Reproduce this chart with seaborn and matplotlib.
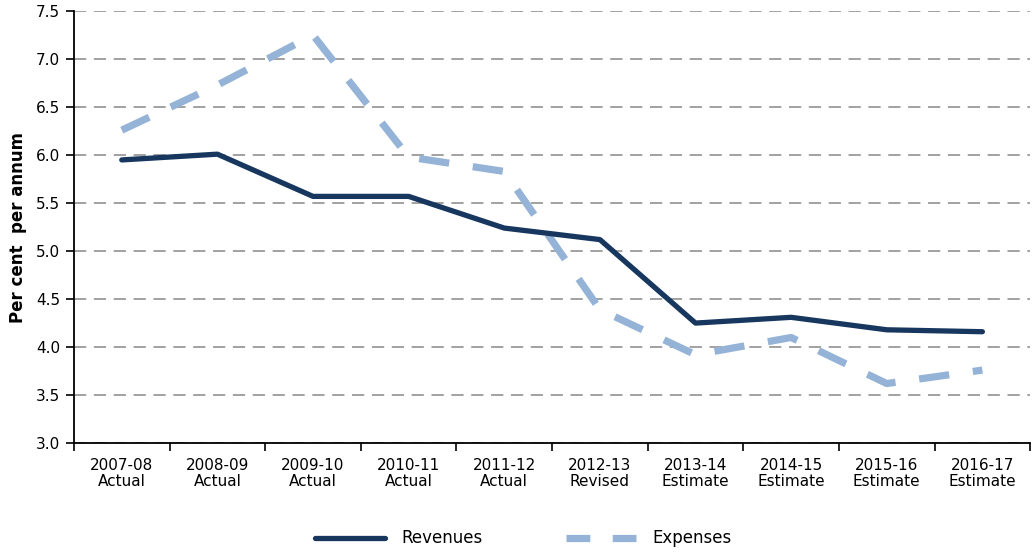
import numpy as np
import pandas as pd
import matplotlib.pyplot as plt
import seaborn as sns

sns.set_style('white')
plt.rcParams['font.family'] = ['DejaVu Sans']
plt.rcParams['text.color'] = 'black'
plt.rcParams['xtick.color'] = 'black'
plt.rcParams['ytick.color'] = 'black'
plt.rcParams['axes.labelcolor'] = 'black'

years = ['2007-08', '2008-09', '2009-10', '2010-11', '2011-12',
         '2012-13', '2013-14', '2014-15', '2015-16', '2016-17']
stages = ['Actual', 'Actual', 'Actual', 'Actual', 'Actual',
          'Revised', 'Estimate', 'Estimate', 'Estimate', 'Estimate']
revenues = [5.95, 6.01, 5.57, 5.57, 5.24, 5.12, 4.25, 4.31, 4.18, 4.16]
expenses = [6.26, 6.73, 7.25, 5.98, 5.83, 4.39, 3.92, 4.10, 3.62, 3.76]

labels = [f'{y}\n{s}' for y, s in zip(years, stages)]
df = pd.DataFrame({'period': labels, 'Revenues': revenues, 'Expenses': expenses})

navy = '#17375e'
light = '#95b3d7'

fig = plt.figure(figsize=(10.36, 5.58), dpi=100)
ax = fig.add_axes([0.0714, 0.206, 0.923, 0.774])

sns.lineplot(data=df, x='period', y='Revenues', color=navy, lw=3.8,
             sort=False, ax=ax, label='Revenues', zorder=3)
sns.lineplot(data=df, x='period', y='Expenses', color=light, lw=5.2,
             sort=False, ax=ax, label='Expenses', zorder=2)
ax.lines[1].set_dashes((4.2, 3.3))
ax.lines[1].set_solid_capstyle('butt')

ax.set_ylim(3.0, 7.5)
ax.set_yticks(np.arange(3.0, 7.51, 0.5))
ax.set_yticklabels([f'{v:.1f}' for v in np.arange(3.0, 7.51, 0.5)], fontsize=11)
ax.set_xlim(-0.5, len(years) - 0.5)
ax.set_xticks(range(len(years)))
ax.set_xticklabels(labels, fontsize=11, linespacing=1.05)
ax.set_xticks(np.arange(-0.5, len(years)), minor=True)
ax.tick_params(axis='x', which='major', length=0, pad=11)
ax.tick_params(axis='x', which='minor', length=6, width=1.2, direction='out', bottom=True)
ax.tick_params(axis='y', length=6, width=1.2, direction='out', left=True, pad=4)

ax.yaxis.grid(True, color='#888888', lw=1.1, linestyle=(0, (8, 5)))
ax.set_axisbelow(True)
for side in ['top', 'right']:
    ax.spines[side].set_visible(False)
for side in ['left', 'bottom']:
    ax.spines[side].set_color('black')
    ax.spines[side].set_linewidth(1.3)

ax.set_xlabel('')
ax.set_ylabel('Per cent  per annum', fontsize=12, fontweight='bold', labelpad=6)

handles, lbls = ax.get_legend_handles_labels()
ax.get_legend().remove()
leg = fig.legend(handles, lbls, loc='lower center', bbox_to_anchor=(0.505, -0.008), ncol=2,
                 frameon=False, fontsize=12, handlelength=4.2, columnspacing=5.0,
                 handletextpad=1.0)
leg.get_lines()[1].set_dashes((3.3, 3.1))

fig.savefig('out.png', dpi=100)
